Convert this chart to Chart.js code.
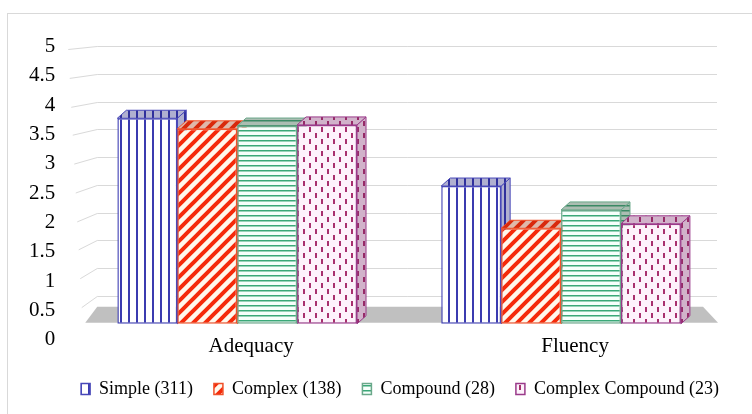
<!DOCTYPE html>
<html>
<head>
<meta charset="utf-8">
<script src="https://cdn.jsdelivr.net/npm/chart.js@4.4.1/dist/chart.umd.min.js"></script>
<style>
  html, body { margin: 0; padding: 0; background: #fff; }
  #wrap { width: 752px; height: 414px; }
</style>
</head>
<body>
<div id="wrap"><canvas id="sentenceChart"></canvas></div>
<script>
var categories = ['Adequacy', 'Fluency'];
var seriesNames = ['Simple (311)', 'Complex (138)', 'Compound (28)', 'Complex Compound (23)'];
var simpleScores = [3.70, 2.48];
var complexScores = [3.51, 1.72];
var compoundScores = [3.56, 2.05];
var complexCompoundScores = [3.58, 1.80];
var gridValues = [0.5, 1, 1.5, 2, 2.5, 3, 3.5, 4, 4.5, 5];

var serif = 'Liberation Serif';
var depthX = 9, depthY = 8;
var legendPad = 21, legendFont = 18;

var ctx = document.getElementById('sentenceChart').getContext('2d');

function makePattern(w, h, draw) {
    var c = document.createElement('canvas');
    c.width = w;
    c.height = h;
    draw(c.getContext('2d'), w, h);
    return ctx.createPattern(c, 'repeat');
}

var simpleFill = makePattern(8, 8, function (p, w, h) {
    p.fillStyle = '#ffffff';
    p.fillRect(0, 0, w, h);
    p.fillStyle = '#3b3bb0';
    p.fillRect(0, 0, 2, h);
});
var complexFill = makePattern(12, 12, function (p, w, h) {
    p.fillStyle = '#fff8ec';
    p.fillRect(0, 0, w, h);
    p.strokeStyle = '#f52a0a';
    p.lineWidth = 4;
    p.beginPath();
    p.moveTo(-3, 3); p.lineTo(3, -3);
    p.moveTo(0, h); p.lineTo(w, 0);
    p.moveTo(w - 3, h + 3); p.lineTo(w + 3, h - 3);
    p.stroke();
});
var compoundFill = makePattern(4, 5, function (p, w, h) {
    p.fillStyle = '#f6fffb';
    p.fillRect(0, 0, w, h);
    p.fillStyle = '#3aa878';
    p.fillRect(0, 0, w, 1.5);
});
var complexCompoundFill = makePattern(12, 12, function (p, w, h) {
    p.fillStyle = '#fdf2fb';
    p.fillRect(0, 0, w, h);
    p.fillStyle = '#a8306e';
    p.fillRect(3, 1, 2, 5);
    p.fillRect(9, 7, 2, 5);
});

var faceShade = ['rgba(30,30,120,0.35)', 'rgba(150,40,20,0.3)', 'rgba(60,90,70,0.4)', 'rgba(110,30,90,0.3)'];

var backdrop = {
    id: 'backdrop',
    beforeDraw: function (chart) {
        var c = chart.ctx;
        c.save();
        c.fillStyle = '#ffffff';
        c.fillRect(0, 0, chart.width, chart.height);
        c.strokeStyle = '#d9d9d9';
        c.lineWidth = 1;
        c.strokeRect(7.5, 13.5, chart.width, chart.height);
        c.restore();
    },
    afterLayout: function (chart) {
        // legend sits right of centre and a bit lower in the original
        var lg = chart.legend;
        lg.left += 34;
        lg.right += 34;
        var dy = (chart.height - 25) - (lg.top + legendPad + legendFont / 2);
        lg.top += dy;
        lg.bottom += dy;
    },
    beforeDatasetsDraw: function (chart) {
        var c = chart.ctx, area = chart.chartArea, y = chart.scales.y;
        var backLeft = area.left + 22, backRight = area.right - 6;
        c.save();
        c.strokeStyle = '#d9d9d9';
        c.lineWidth = 1;
        gridValues.forEach(function (v) {
            var py = Math.round(y.getPixelForValue(v)) + 0.5;
            var t = 1 - v / 5;
            c.beginPath();
            c.moveTo(area.left - 7 + t * 15, py + 3 + t * 9);
            c.lineTo(backLeft, py);
            c.lineTo(backRight, py);
            c.stroke();
        });
        var zero = y.getPixelForValue(0);
        c.fillStyle = '#c0c0c0';
        c.beginPath();
        c.moveTo(backLeft, zero - 17);
        c.lineTo(area.right - 20, zero - 17);
        c.lineTo(area.right - 5, zero - 1);
        c.lineTo(area.left + 10, zero - 1);
        c.closePath();
        c.fill();

        chart.data.datasets.forEach(function (ds, i) {
            var meta = chart.getDatasetMeta(i);
            meta.data.forEach(function (bar) {
                var p = bar.getProps(['x', 'y', 'base', 'width'], true);
                var left = p.x - p.width / 2, right = p.x + p.width / 2;
                // side face
                c.beginPath();
                c.moveTo(right, p.y);
                c.lineTo(right + depthX, p.y - depthY);
                c.lineTo(right + depthX, p.base - depthY);
                c.lineTo(right, p.base);
                c.closePath();
                c.fillStyle = ds.backgroundColor;
                c.fill();
                c.fillStyle = faceShade[i];
                c.fill();
                c.strokeStyle = ds.borderColor;
                c.lineWidth = 1;
                c.stroke();
                // top face
                c.beginPath();
                c.moveTo(left, p.y);
                c.lineTo(right, p.y);
                c.lineTo(right + depthX, p.y - depthY);
                c.lineTo(left + depthX, p.y - depthY);
                c.closePath();
                c.fillStyle = ds.backgroundColor;
                c.fill();
                c.fillStyle = faceShade[i];
                c.fill();
                c.stroke();
            });
        });
        c.restore();
    }
};

new Chart(ctx, {
    type: 'bar',
    data: {
        labels: categories,
        datasets: [{
            label: seriesNames[0],
            data: simpleScores,
            backgroundColor: simpleFill,
            borderColor: '#4848b8',
            borderWidth: 1.5,
            borderSkipped: false
        }, {
            label: seriesNames[1],
            data: complexScores,
            backgroundColor: complexFill,
            borderColor: '#f0502a',
            borderWidth: 1.5,
            borderSkipped: false
        }, {
            label: seriesNames[2],
            data: compoundScores,
            backgroundColor: compoundFill,
            borderColor: '#6aa88a',
            borderWidth: 1.5,
            borderSkipped: false
        }, {
            label: seriesNames[3],
            data: complexCompoundScores,
            backgroundColor: complexCompoundFill,
            borderColor: '#9a3a8a',
            borderWidth: 1.5,
            borderSkipped: false
        }]
    },
    options: {
        responsive: true,
        maintainAspectRatio: false,
        animation: false,
        layout: {
            padding: { top: 30, left: 9, right: 29, bottom: 6 }
        },
        datasets: {
            bar: { categoryPercentage: 0.74, barPercentage: 1.0 }
        },
        scales: {
            x: {
                grid: { display: false },
                border: { display: false },
                ticks: {
                    color: '#000',
                    font: { family: serif, size: 21 },
                    padding: 0,
                    labelOffset: 14
                }
            },
            y: {
                display: false,
                min: -0.0359,
                max: 5.242
            },
            yl: {
                position: 'left',
                min: 0,
                max: 5,
                grid: { display: false, drawTicks: false },
                border: { display: false },
                ticks: {
                    stepSize: 0.5,
                    color: '#000',
                    padding: 20,
                    labelOffset: 14,
                    font: { family: serif, size: 21 },
                    callback: function (value) {
                        return String(Math.round(value * 10) / 10);
                    }
                }
            }
        },
        plugins: {
            legend: {
                position: 'bottom',
                labels: {
                    color: '#000',
                    boxWidth: 9,
                    boxHeight: 11,
                    padding: legendPad,
                    font: { family: serif, size: legendFont }
                }
            },
            tooltip: { enabled: false }
        }
    },
    plugins: [backdrop]
});
</script>
</body>
</html>
